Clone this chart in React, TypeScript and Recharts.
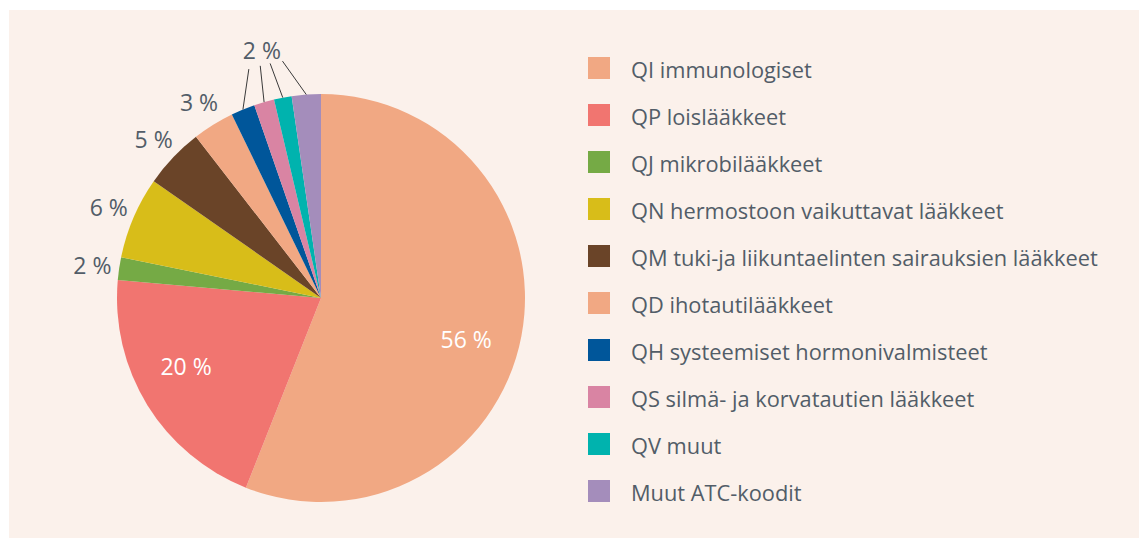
import { PieChart, Pie, Cell, Legend } from "recharts";

const categories = [
  "QI immunologiset",
  "QP loislääkkeet",
  "QJ mikrobilääkkeet",
  "QN hermostoon vaikuttavat lääkkeet",
  "QM tuki-ja liikuntaelinten sairauksien lääkkeet",
  "QD ihotautilääkkeet",
  "QH systeemiset hormonivalmisteet",
  "QS silmä- ja korvatautien lääkkeet",
  "QV muut",
  "Muut ATC-koodit",
];

// osuudet prosentteina (luettu kuvasta)
const shares = [56, 20.4, 1.8, 6.5, 4.8, 3.3, 1.9, 1.6, 1.4, 2.3];
const shareLabels = ["56 %", "20 %", "2 %", "6 %", "5 %", "3 %", "2 %", "2 %", "2 %", "2 %"];

const colors = [
  "#f1a883",
  "#f17570",
  "#75aa45",
  "#d8bd19",
  "#6a4428",
  "#f1a883",
  "#00569a",
  "#d984a3",
  "#00b3ae",
  "#a48dbb",
];

// pienet sektorit, joilla on yhteinen "2 %" -otsikko
const sharedLabelGroup = [
  "QH systeemiset hormonivalmisteet",
  "QS silmä- ja korvatautien lääkkeet",
  "QV muut",
  "Muut ATC-koodit",
];

const data = categories.map((name, i) => ({ name, value: shares[i] }));

const TEXT = "#525d68";
const FONT = "'Open Sans', sans-serif";
const RAD = Math.PI / 180;

const total = shares.reduce((a, b) => a + b, 0);
const midAngles: number[] = [];
shares.reduce((cum, v) => {
  midAngles.push(90 - (360 * (cum + v / 2)) / total);
  return cum + v;
}, 0);
const groupIdx = sharedLabelGroup.map((n) => categories.indexOf(n));
const groupMean =
  groupIdx.reduce((a, i) => a + midAngles[i], 0) / groupIdx.length;

function renderLabel(props: any) {
  const { cx, cy, midAngle, outerRadius, index } = props;
  const pt = (r: number, a: number) => [
    cx + r * Math.cos(-a * RAD),
    cy + r * Math.sin(-a * RAD),
  ];
  const textProps = {
    textAnchor: "middle" as const,
    dominantBaseline: "central" as const,
    fontSize: 23,
    fontFamily: FONT,
  };
  if (shares[index] > 10) {
    const [x, y] = pt(outerRadius * 0.74, midAngle - 5);
    return (
      <text x={x} y={y} fill="#ffffff" {...textProps}>
        {shareLabels[index]}
      </text>
    );
  }
  const gi = groupIdx.indexOf(index);
  if (gi >= 0) {
    const [x1, y1] = pt(outerRadius, midAngle);
    const [x2, y2] = pt(outerRadius + 36, groupMean + (midAngle - groupMean) * 0.45);
    const [tx, ty] = pt(outerRadius + 51, groupMean);
    return (
      <g>
        <line x1={x1} y1={y1} x2={x2} y2={y2} stroke="#3a3a3a" strokeWidth={1} />
        {gi === 0 && (
          <text x={tx} y={ty} fill={TEXT} {...textProps}>
            {shareLabels[index]}
          </text>
        )}
      </g>
    );
  }
  const [x, y] = pt(outerRadius + 27, midAngle);
  return (
    <text x={x} y={y} fill={TEXT} {...textProps}>
      {shareLabels[index]}
    </text>
  );
}

const renderLegend = () => (
  <div style={{ fontFamily: FONT, fontSize: 21.8, color: TEXT }}>
    {categories.map((c, i) => (
      <div key={c} style={{ height: 47, display: "flex", alignItems: "center" }}>
        <span
          style={{
            display: "inline-block",
            width: 22,
            height: 22,
            background: colors[i],
            marginRight: 21,
            flexShrink: 0,
          }}
        />
        <span style={{ whiteSpace: "nowrap", position: "relative", top: 2 }}>{c}</span>
      </div>
    ))}
  </div>
);

export default function App() {
  return (
    <div style={{ position: "relative", width: 1139, height: 531 }}>
      <div
        style={{
          position: "absolute",
          left: 1,
          top: 2,
          width: 1137,
          height: 528,
          background: "#fbf1eb",
        }}
      />
      <div style={{ position: "absolute", left: 0, top: 0 }}>
        <PieChart width={1139} height={531} margin={{ top: 0, right: 0, bottom: 0, left: 0 }}>
          <Pie
            data={data}
            dataKey="value"
            nameKey="name"
            cx={313}
            cy={290}
            outerRadius={204}
            startAngle={90}
            endAngle={-270}
            stroke="none"
            label={renderLabel}
            labelLine={false}
            isAnimationActive={false}
          >
            {data.map((d, i) => (
              <Cell key={d.name} fill={colors[i]} />
            ))}
          </Pie>
          <Legend
            layout="vertical"
            align="right"
            verticalAlign="top"
            wrapperStyle={{ left: 580, top: 36, width: 550 }}
            content={renderLegend}
          />
        </PieChart>
      </div>
    </div>
  );
}
